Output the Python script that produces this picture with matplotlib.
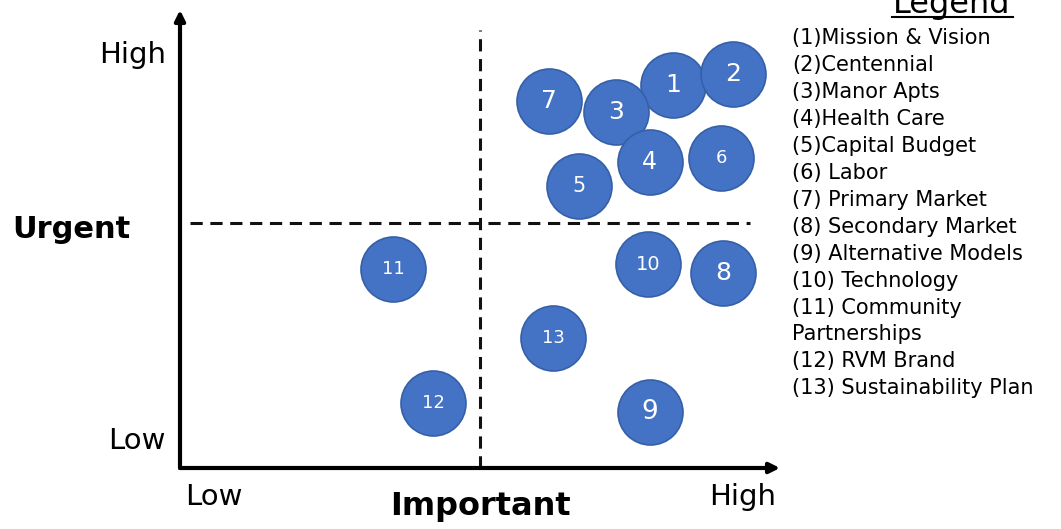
import matplotlib.pyplot as plt
from matplotlib.lines import Line2D

# priority items: importance (x) vs urgency (y), 0-10 scale
item_ids = [1, 2, 3, 4, 5, 6, 7, 8, 9, 10, 11, 12, 13]
importance = [8.22, 9.22, 7.27, 7.83, 6.65, 9.02, 6.15, 9.05, 7.83, 7.80, 3.55, 4.22, 6.22]
urgency = [8.36, 8.60, 7.77, 6.68, 6.16, 6.77, 8.01, 4.26, 1.22, 4.45, 4.34, 1.42, 2.84]
label_sizes = [18, 18, 18, 17, 15, 13, 18, 18, 19, 14, 13, 13, 13]

x_split = 5.0
y_split = 5.35

legend_lines = [
    "(1)Mission & Vision",
    "(2)Centennial",
    "(3)Manor Apts",
    "(4)Health Care",
    "(5)Capital Budget",
    "(6) Labor",
    "(7) Primary Market",
    "(8) Secondary Market",
    "(9) Alternative Models",
    "(10) Technology",
    "(11) Community",
    "Partnerships",
    "(12) RVM Brand",
    "(13) Sustainability Plan",
]

W, H = 1061, 529
fig = plt.figure(figsize=(W / 100, H / 100), dpi=100)
ax = fig.add_axes([180 / W, (H - 468) / H, 600 / W, 458 / H])
ax.set_xlim(0, 10)
ax.set_ylim(0, 10)
ax.axis("off")

# axes with arrowheads
arrow = dict(arrowstyle="-|>,head_length=0.6,head_width=0.3", lw=3, color="black",
             shrinkA=0, shrinkB=0)
ax.annotate("", xy=(0, 1.0), xytext=(0, 0), xycoords="axes fraction", arrowprops=arrow)
ax.annotate("", xy=(1.0, 0), xytext=(0, 0), xycoords="axes fraction", arrowprops=arrow)

# quadrant dividers
ax.plot([x_split, x_split], [0, 9.56], ls=(0, (4, 2.5)), lw=2.2, color="#111111", zorder=1)
ax.plot([0.17, 9.5], [y_split, y_split], ls=(0, (4, 2.5)), lw=2.2, color="#111111", zorder=1)

ax.scatter(importance, urgency, s=2190, c="#4472C4", edgecolors="#3560A8",
           linewidths=1.2, zorder=3, clip_on=False)
for i, x, y, fs in zip(item_ids, importance, urgency, label_sizes):
    ax.text(x, y, str(i), color="white", ha="center", va="center",
            fontsize=fs, zorder=4)

# axis captions
fig.text(166 / W, 1 - 55 / H, "High", ha="right", va="center", fontsize=21)
fig.text(166 / W, 1 - 441 / H, "Low", ha="right", va="center", fontsize=21)
fig.text(12 / W, 1 - 230 / H, "Urgent", ha="left", va="center", fontsize=22,
         fontweight="bold")
fig.text(185 / W, 1 - 497 / H, "Low", ha="left", va="center", fontsize=21)
fig.text(776 / W, 1 - 497 / H, "High", ha="right", va="center", fontsize=21)
fig.text(480 / W, 1 - 507 / H, "Important", ha="center", va="center", fontsize=23,
         fontweight="bold")

# legend block
fig.text(952 / W, 1 - 13 / H, "Legend", ha="center", va="baseline", fontsize=23)
fig.add_artist(Line2D([892 / W, 1013 / W], [1 - 16.5 / H, 1 - 16.5 / H], lw=1.5,
                      color="black"))
for k, line in enumerate(legend_lines):
    fig.text(792 / W, 1 - (38 + 26.95 * k) / H, line, ha="left", va="center",
             fontsize=15)

fig.savefig("out.png", dpi=100)
